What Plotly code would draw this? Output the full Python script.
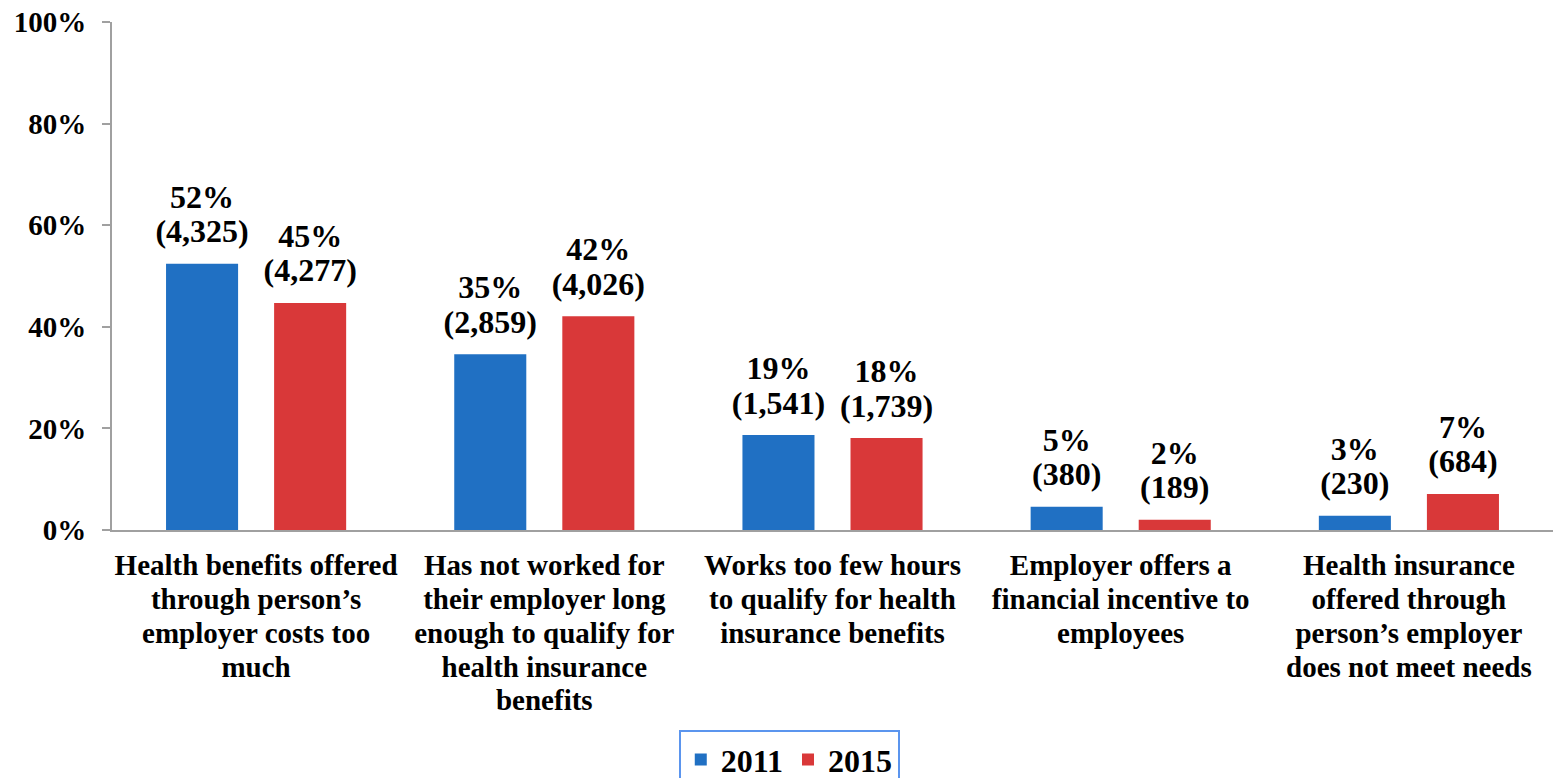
import plotly.graph_objects as go

# Reasons for not taking employer health coverage, share of respondents
categories = [
    "Health benefits offered<br>through person’s<br>employer costs too<br>much",
    "Has not worked for<br>their employer long<br>enough to qualify for<br>health insurance<br>benefits",
    "Works too few hours<br>to qualify for health<br>insurance benefits",
    "Employer offers a<br>financial incentive to<br>employees",
    "Health insurance<br>offered through<br>person’s employer<br>does not meet needs",
]
pct_2011 = [52.4, 34.6, 18.7, 4.6, 2.8]
pct_2015 = [44.7, 42.1, 18.1, 2.0, 7.1]
count_2011 = [4325, 2859, 1541, 380, 230]
count_2015 = [4277, 4026, 1739, 189, 684]

y_ticks = [0, 20, 40, 60, 80, 100]
y_tick_labels = ["0%", "20%", "40%", "60%", "80%", "100%"]

FONT = "Liberation Serif"
BLUE = "#2070C3"
RED = "#D93839"
LABEL_SIZE = 32


def big(s, px):
    return f"<span style='font-size:{px}px'><b>{s}</b></span>"


fig = go.Figure()
series = [
    ("2011", pct_2011, count_2011, BLUE, "a"),
    ("2015", pct_2015, count_2015, RED, "b"),
]
for name, pcts, counts, color, grp in series:
    fig.add_trace(go.Bar(
        name=f"<b>{name}</b>",
        x=categories,
        y=pcts,
        marker=dict(color=color, line=dict(width=0)),
        offsetgroup=grp,
        hoverinfo="skip",
    ))

# Two-line value labels above each bar: the percentage, then the count.
# An invisible marker of a given size sets each line's distance above the bar top.
for name, pcts, counts, color, grp in series:
    for texts, lift in [
        ([f"<b>({c:,})</b>" for c in counts], 20.0),
        ([f"<b>{round(p)}%</b>" for p in pcts], 75.0),
    ]:
        fig.add_trace(go.Scatter(
            x=categories,
            y=pcts,
            mode="markers+text",
            text=texts,
            textposition="top center",
            textfont=dict(family=FONT, size=LABEL_SIZE, color="black"),
            marker=dict(size=lift, color="rgba(0,0,0,0)"),
            offsetgroup=grp,
            cliponaxis=False,
            showlegend=False,
            hoverinfo="skip",
        ))

fig.update_layout(
    width=1553,
    height=778,
    margin=dict(l=112, r=0, t=22, b=248, autoexpand=False),
    paper_bgcolor="white",
    plot_bgcolor="white",
    barmode="group",
    bargap=0.25,
    bargroupgap=1 / 3,
    scattermode="group",
    scattergap=0.25,
    font=dict(family=FONT, color="black"),
    showlegend=True,
    legend=dict(
        orientation="h",
        x=0.47,
        xanchor="center",
        y=-0.394,
        yanchor="top",
        font=dict(family=FONT, size=32, color="black"),
        bordercolor="#5B95EE",
        borderwidth=2,
        itemwidth=30,
    ),
)

fig.update_xaxes(
    showline=True,
    linecolor="#A0A0A0",
    linewidth=2,
    ticks="",
    tickangle=0,
    ticklabelstandoff=12,
    tickfont=dict(family=FONT, size=26, color="black"),
    showgrid=False,
    tickvals=categories,
    ticktext=["<br>".join(big(line, 29) for line in c.split("<br>")) for c in categories],
)
fig.update_yaxes(
    range=[0, 100],
    tickvals=y_ticks,
    ticktext=[f"<b>{t}</b>" for t in y_tick_labels],
    showline=True,
    linecolor="#A0A0A0",
    linewidth=2,
    ticks="outside",
    ticklen=8,
    tickcolor="#A0A0A0",
    tickwidth=2,
    ticklabelstandoff=10,
    tickfont=dict(family=FONT, size=29, color="black"),
    showgrid=False,
    zeroline=False,
)

fig.write_html("out.html")
